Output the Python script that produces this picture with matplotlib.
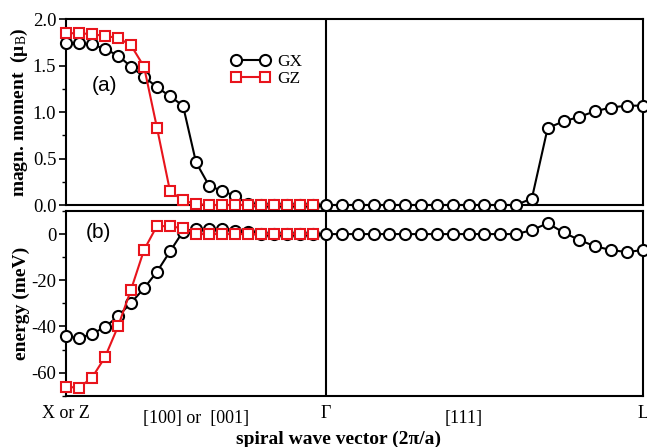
import numpy as np
import matplotlib
matplotlib.use("Agg")
import matplotlib.pyplot as plt
from matplotlib.ticker import MultipleLocator, FormatStrFormatter
import matplotlib.transforms as mtransforms

plt.rcParams['font.family'] = ['Liberation Serif', 'DejaVu Serif']
plt.rcParams['mathtext.fontset'] = 'custom'
plt.rcParams['mathtext.rm'] = 'Liberation Serif'
plt.rcParams['mathtext.it'] = 'Liberation Serif:italic'
plt.rcParams['mathtext.bf'] = 'Liberation Serif:bold'
plt.rcParams['axes.unicode_minus'] = False

# ---- data ----
# path X -> Gamma (21 points), Gamma -> L (20 more points)
n_left = 21
n_right = 21
gamma_pos = 1.0
l_pos = 2.218

# magnetic moment (mu_B)
moment_gx = [1.75, 1.74, 1.73, 1.68, 1.61, 1.49, 1.38, 1.27, 1.17, 1.07,
             0.46, 0.21, 0.15, 0.10, 0.01, 0.0, 0.0, 0.0, 0.0, 0.0, 0.0,
             0.0, 0.0, 0.0, 0.0, 0.0, 0.0, 0.0, 0.0, 0.0, 0.0, 0.0, 0.0,
             0.07, 0.83, 0.90, 0.95, 1.01, 1.05, 1.07, 1.07]
moment_gz = [1.85, 1.85, 1.84, 1.82, 1.80, 1.72, 1.49, 0.83, 0.15, 0.05,
             0.01, 0.0, 0.0, 0.0, 0.0, 0.0, 0.0, 0.0, 0.0, 0.0]

# energy (meV)
energy_gx = [-44.2, -45.1, -43.2, -40.3, -35.6, -29.8, -23.5, -16.3, -7.5, 1.1,
             2.2, 2.2, 2.2, 1.4, 1.0, 0.0, 0.0, 0.0, 0.0, 0.0, 0.0,
             0.0, 0.0, 0.0, 0.0, 0.0, 0.0, 0.0, 0.0, 0.0, 0.0, 0.0, 0.0,
             1.7, 4.7, 0.7, -2.6, -5.3, -6.9, -7.8, -6.9]
energy_gz = [-66.2, -66.5, -62.2, -53.3, -40.0, -24.1, -6.9, 3.6, 3.3, 2.6,
             0.0, 0.0, 0.0, 0.0, 0.0, 0.0, 0.0, 0.0, 0.0, 0.0]

series_labels = ['GX', 'GZ']
kpoint_labels = ['X or Z', '\u0393', 'L']
segment_labels = ['[100] or  [001]', '[111]']

# x grid
q_left = np.linspace(0.0, gamma_pos, n_left)
q_right = np.linspace(gamma_pos, l_pos, n_right)[1:]
q_gx = np.concatenate([q_left, q_right])
q_gz = q_left[:len(moment_gz)]

fig = plt.figure(figsize=(6.47, 4.47), dpi=100)
W, H = 647, 447
L_px, R_px = 66, 642.7
ax1 = fig.add_axes([L_px / W, 1 - 205 / H, (R_px - L_px) / W, (205 - 19.3) / H])
ax2 = fig.add_axes([L_px / W, 1 - 395.7 / H, (R_px - L_px) / W, (395.7 - 211) / H])

red = '#e8141c'
mk_gx = dict(marker='o', markersize=8, markerfacecolor='white',
             markeredgecolor='black', markeredgewidth=1.5, color='black', lw=1.5)
mk_gz = dict(marker='s', markersize=7, markerfacecolor='white',
             markeredgecolor=red, markeredgewidth=1.5, color=red, lw=1.5)

for ax, ygx, ygz in [(ax1, moment_gx, moment_gz), (ax2, energy_gx, energy_gz)]:
    ax.plot(q_gx, ygx, label=series_labels[0], zorder=3, clip_on=False, **mk_gx)
    ax.plot(q_gz, ygz, label=series_labels[1], zorder=4, clip_on=False, **mk_gz)
    ax.axvline(gamma_pos, color='black', lw=1.5, zorder=2)
    ax.set_xlim(0, l_pos)
    ax.set_xticks([])
    for sp in ax.spines.values():
        sp.set_linewidth(1.5)
    ax.tick_params(axis='y', which='major', direction='out', length=5, width=1.2,
                   labelsize=13.5, pad=2)
    ax.tick_params(axis='y', which='minor', direction='out', length=3, width=1.0)

ax1.set_ylim(0, 2.0)
ax1.yaxis.set_major_locator(MultipleLocator(0.5))
ax1.yaxis.set_minor_locator(MultipleLocator(0.25))
ax1.yaxis.set_major_formatter(FormatStrFormatter('%.1f'))
ax1.set_ylabel('magn. moment  (\u03bc$_{\\rm B}$)', fontsize=14, fontweight='bold')

ax2.set_ylim(-70, 10)
ax2.yaxis.set_major_locator(MultipleLocator(20))
ax2.yaxis.set_minor_locator(MultipleLocator(10))
ax2.set_ylabel('energy (meV)', fontsize=14, fontweight='bold')

label_x = (30 - L_px) / (R_px - L_px)
ax1.yaxis.set_label_coords(label_x, 0.5)
ax2.yaxis.set_label_coords(label_x, 0.5)

ax1.text(0.045, 0.645, '(a)', transform=ax1.transAxes, fontsize=15,
         family='Liberation Sans', ha='left', va='center')
ax2.text(0.035, 0.885, '(b)', transform=ax2.transAxes, fontsize=15,
         family='Liberation Sans', ha='left', va='center')

leg = ax1.legend(loc='upper left', bbox_to_anchor=(0.273, 0.85), frameon=False,
                 fontsize=12.5, numpoints=2, handlelength=2.3, handletextpad=0.4,
                 labelspacing=0.05, borderaxespad=0)

trans = mtransforms.blended_transform_factory(ax2.transData, fig.transFigure)
for pos, lab in zip([0.0, gamma_pos, l_pos], kpoint_labels):
    ax2.text(pos, 1 - 413 / H, lab, transform=trans, ha='center', va='center', fontsize=13)
for pos, lab in zip([0.5, (gamma_pos + l_pos) / 2 - 0.08], segment_labels):
    ax2.text(pos, 1 - 419 / H, lab, transform=trans, ha='center', va='center', fontsize=13)

fig.text(339 / W, 1 - 439 / H, 'spiral wave vector (2\u03c0/a)', ha='center', va='center',
         fontsize=14, fontweight='bold')

fig.savefig('out.png', dpi=100)
